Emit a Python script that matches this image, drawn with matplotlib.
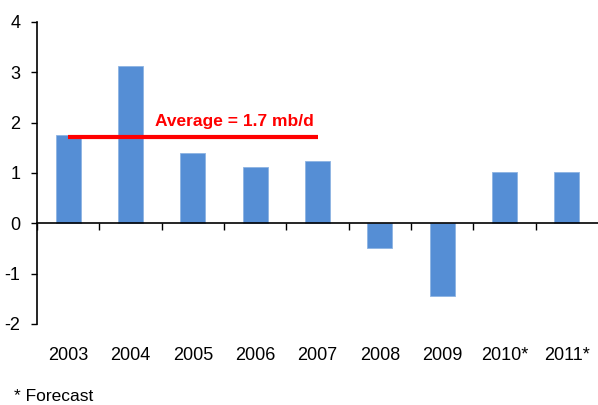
import numpy as np
import matplotlib
matplotlib.use("Agg")
import matplotlib.pyplot as plt

plt.rcParams['font.family'] = ['Liberation Sans', 'DejaVu Sans']
plt.rcParams['axes.unicode_minus'] = False

# data (mb/d)
years = ['2003', '2004', '2005', '2006', '2007', '2008', '2009', '2010*', '2011*']
growth = [1.75, 3.12, 1.39, 1.11, 1.23, -0.50, -1.45, 1.02, 1.02]
avg_value = 1.72
avg_label = 'Average = 1.7 mb/d'
avg_span = ['2003', '2007']

fig = plt.figure(figsize=(5.98, 4.05), dpi=100)
ax = fig.add_axes([37 / 598, 0.2, 1 - 37 / 598, 0.746])

x = np.arange(len(years))
ax.bar(x, growth, width=0.4, color='#558ED5', edgecolor='#8DB3E2', linewidth=0.6, zorder=2)

# average line over 2003-2007
i0, i1 = years.index(avg_span[0]), years.index(avg_span[1])
ax.plot([x[i0], x[i1]], [avg_value, avg_value], color='#FF0000', lw=3, zorder=3, solid_capstyle='butt')
ax.text((x[i0] + x[i1]) / 2 + 0.66, avg_value + 0.21, avg_label, color='#FF0000',
        fontsize=12.5, fontweight='bold', ha='center', va='baseline')

ax.set_xlim(-0.5, len(years) - 0.5)
ax.set_ylim(-2, 4)
ax.set_yticks(range(-2, 5))
ax.tick_params(axis='y', direction='out', length=4, width=1, pad=8, labelsize=13)

# x axis sits at zero, ticks between categories, labels down at the bottom
ax.spines['bottom'].set_position(('data', 0))
ax.set_xticks(np.arange(len(years)) - 0.5)
ax.set_xticklabels([])
ax.set_xticks(x, minor=True)
ax.set_xticklabels(years, minor=True)
ax.tick_params(axis='x', which='major', direction='out', length=5, width=1)
ax.tick_params(axis='x', which='minor', length=0, pad=89, labelsize=13)

ax.spines['top'].set_visible(False)
ax.spines['right'].set_visible(False)
ax.spines['left'].set_linewidth(1.2)
ax.spines['bottom'].set_linewidth(1.2)

fig.text(14 / 598, 1 - 389 / 405, '* Forecast', fontsize=12.5, ha='left', va='top')

fig.savefig('out.png', dpi=100)
